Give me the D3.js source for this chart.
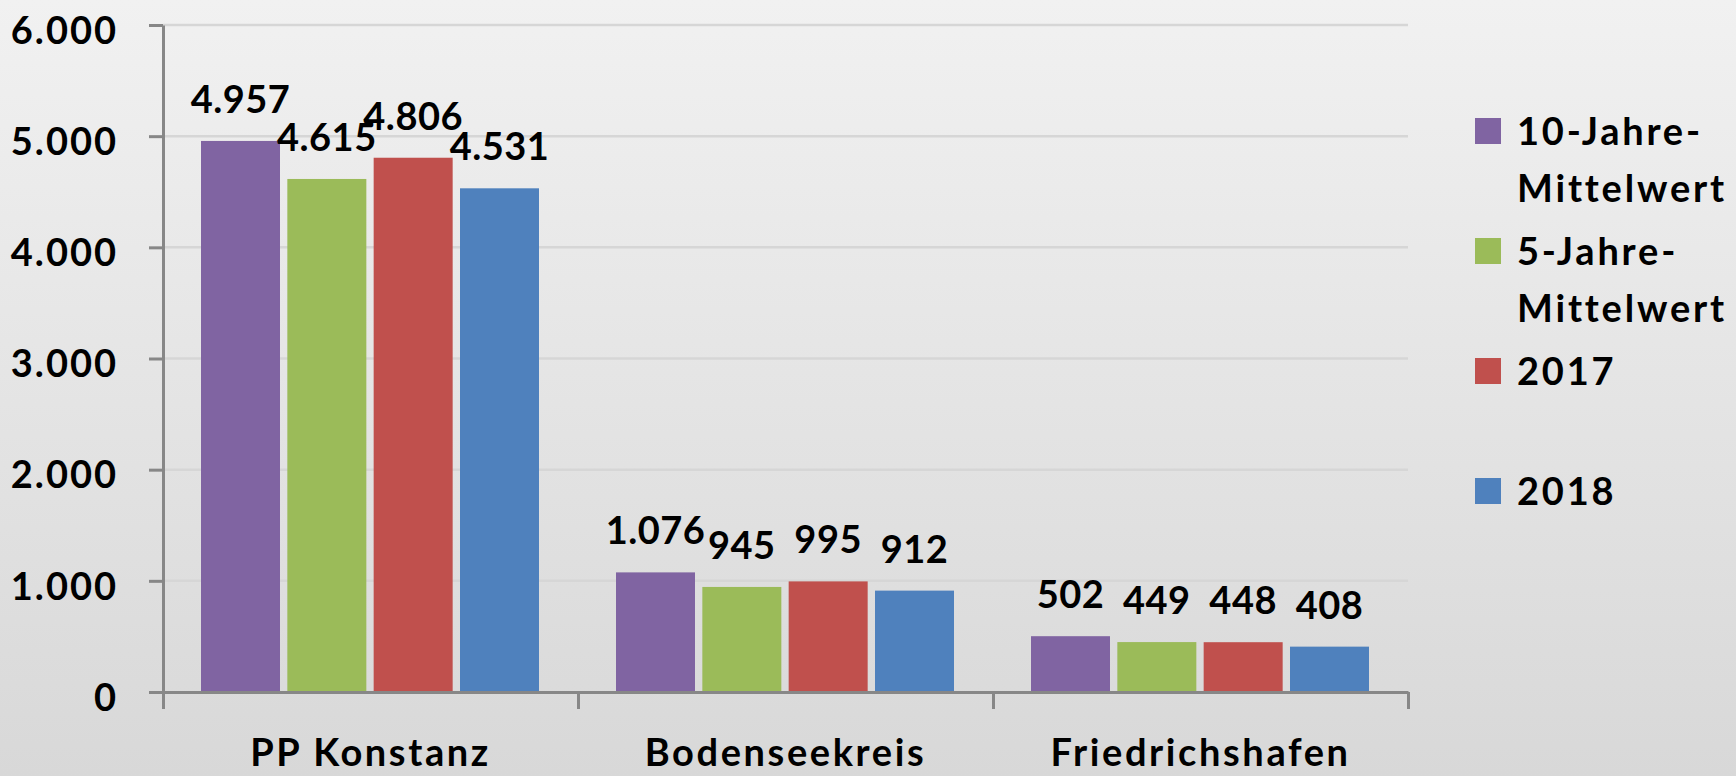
<!DOCTYPE html>
<html>
<head>
<meta charset="utf-8">
<script src="https://cdnjs.cloudflare.com/ajax/libs/d3/7.8.5/d3.min.js"></script>
<style>
  body { margin: 0; }
  svg text { font-family: Lato, "Open Sans", sans-serif; font-weight: bold; fill: #000; }
</style>
</head>
<body>
<div id="chart"></div>
<script>
// data
const categories = ["PP Konstanz", "Bodenseekreis", "Friedrichshafen"];
const seriesNames = ["10-Jahre-Mittelwert", "5-Jahre-Mittelwert", "2017", "2018"];
const legendLines = [["10-Jahre-", "Mittelwert"], ["5-Jahre-", "Mittelwert"], ["2017"], ["2018"]];
const seriesColors = ["#8064A2", "#9BBB59", "#C0504D", "#4F81BD"];
const mittel10 = [4957, 1076, 502];
const mittel5 = [4615, 945, 449];
const jahr2017 = [4806, 995, 448];
const jahr2018 = [4531, 912, 408];
const yTicks = [0, 1000, 2000, 3000, 4000, 5000, 6000];

const seriesValues = [mittel10, mittel5, jahr2017, jahr2018];

const W = 1736, H = 776;
const plot = { left: 163, right: 1408, top: 25, bottom: 692 };

const de = d3.formatLocale({ decimal: ",", thousands: ".", grouping: [3], currency: ["", " €"] });
const fmt = de.format(",d");

const svg = d3.select("#chart").append("svg")
    .attr("width", W)
    .attr("height", H);

// background gradient
const grad = svg.append("defs").append("linearGradient")
    .attr("id", "bg")
    .attr("x1", 0).attr("y1", 0).attr("x2", 0).attr("y2", 1);
grad.append("stop").attr("offset", "0%").attr("stop-color", "#f1f1f1");
grad.append("stop").attr("offset", "100%").attr("stop-color", "#d8d8d8");

svg.append("rect")
    .attr("width", W)
    .attr("height", H)
    .attr("fill", "url(#bg)");

const x = d3.scaleBand()
    .domain(categories)
    .range([plot.left, plot.right])
    .padding(0);

const xInner = d3.scaleBand()
    .domain(seriesNames)
    .range([38, x.bandwidth() - 39])
    .paddingInner(0.085);

const y = d3.scaleLinear()
    .domain([0, 6000])
    .range([plot.bottom, plot.top]);

// gridlines
svg.append("g")
    .selectAll("line")
    .data(yTicks.filter(d => d > 0))
    .join("line")
    .attr("x1", plot.left)
    .attr("x2", plot.right)
    .attr("y1", d => y(d))
    .attr("y2", d => y(d))
    .attr("stroke", "#d6d6d6")
    .attr("stroke-width", 2.5);

// bars
const rows = categories.map((c, i) => ({
    cat: c,
    vals: seriesNames.map((s, j) => ({ s, j, v: seriesValues[j][i] }))
}));

const groups = svg.append("g")
    .selectAll("g")
    .data(rows)
    .join("g")
    .attr("transform", d => `translate(${x(d.cat)},0)`);

groups.selectAll("rect")
    .data(d => d.vals)
    .join("rect")
    .attr("x", d => xInner(d.s))
    .attr("y", d => y(d.v))
    .attr("width", xInner.bandwidth())
    .attr("height", d => y(0) - y(d.v))
    .attr("fill", d => seriesColors[d.j]);

groups.selectAll("text")
    .data(d => d.vals)
    .join("text")
    .attr("x", d => xInner(d.s) + xInner.bandwidth() / 2)
    .attr("y", d => y(d.v) - 28)
    .attr("text-anchor", "middle")
    .attr("font-size", 38)
    .attr("letter-spacing", 0.5)
    .text(d => fmt(d.v));

// y axis
const yAxis = svg.append("g")
    .attr("transform", `translate(${plot.left},0)`)
    .call(d3.axisLeft(y)
        .tickValues(yTicks)
        .tickSize(14)
        .tickSizeOuter(0)
        .tickPadding(31)
        .tickFormat(fmt));
yAxis.selectAll("path, line").attr("stroke", "#878787").attr("stroke-width", 3);
yAxis.selectAll("text")
    .attr("font-size", 38)
    .attr("letter-spacing", 2)
    .attr("dy", "0.48em")
    .attr("font-family", null);

// x axis with category separators
const xEdge = d3.scaleLinear().domain([0, categories.length]).range([plot.left, plot.right]);
const xAxis = svg.append("g")
    .attr("transform", `translate(0,${plot.bottom})`)
    .call(d3.axisBottom(xEdge)
        .tickValues(d3.range(categories.length + 1))
        .tickSize(17)
        .tickSizeOuter(0)
        .tickFormat(""));
xAxis.selectAll("path, line").attr("stroke", "#878787").attr("stroke-width", 3);

svg.append("g")
    .selectAll("text")
    .data(categories)
    .join("text")
    .attr("x", d => x(d) + x.bandwidth() / 2)
    .attr("y", 766)
    .attr("text-anchor", "middle")
    .attr("font-size", 38)
    .attr("letter-spacing", 2.6)
    .text(d => d);

// legend
const legend = svg.append("g")
    .attr("transform", "translate(1475,118)");

const items = legend.selectAll("g")
    .data(seriesNames)
    .join("g")
    .attr("transform", (d, i) => `translate(0,${i * 120})`);

items.append("rect")
    .attr("width", 26)
    .attr("height", 26)
    .attr("fill", (d, i) => seriesColors[i]);

items.append("text")
    .attr("x", 42)
    .attr("y", 27)
    .attr("font-size", 38)
    .attr("letter-spacing", 2.8)
    .selectAll("tspan")
    .data((d, i) => legendLines[i])
    .join("tspan")
    .attr("x", 42)
    .attr("dy", (d, k) => k === 0 ? 0 : 57)
    .text(d => d);
</script>
</body>
</html>
